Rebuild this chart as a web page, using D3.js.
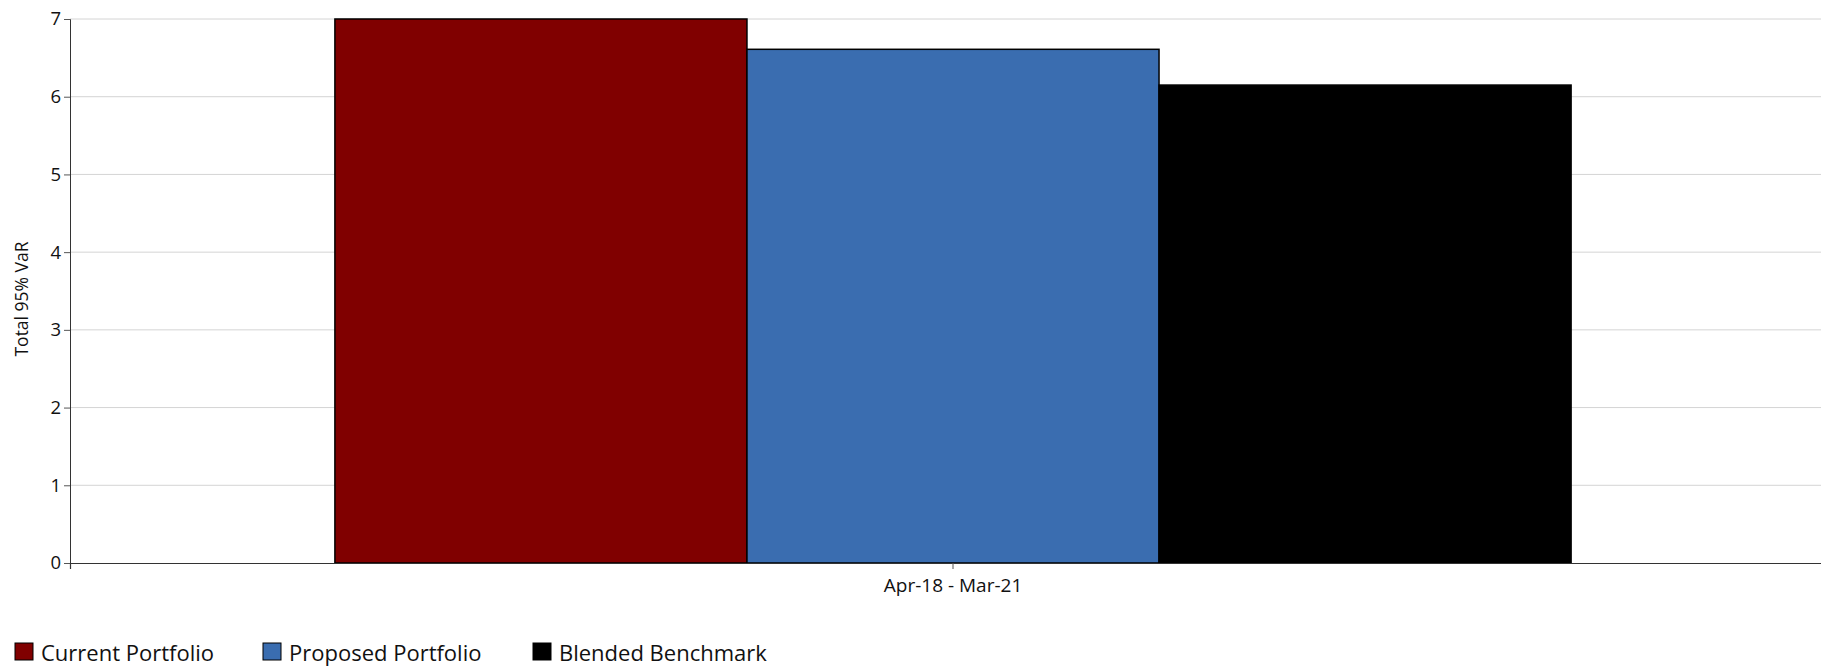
<!DOCTYPE html>
<html>
<head>
<meta charset="utf-8">
<script src="https://cdn.jsdelivr.net/npm/d3@7"></script>
<style>
  html, body { margin: 0; padding: 0; background: #fff; }
  svg { display: block; font-family: "Open Sans", "Noto Sans", sans-serif; }
</style>
</head>
<body>
<svg id="chart" width="1821" height="669"></svg>
<script>
// Period shown on the category axis
const categories = ["Apr-18 - Mar-21"];
// Portfolio series and their Total 95% VaR values
const seriesNames = ["Current Portfolio", "Proposed Portfolio", "Blended Benchmark"];
const seriesColors = ["#800000", "#3a6db0", "#000000"];
const currentValues = [7.0];
const proposedValues = [6.61];
const benchmarkValues = [6.15];
const yTicks = [0, 1, 2, 3, 4, 5, 6, 7];
const yTitle = "Total 95% VaR";

const seriesValues = [currentValues, proposedValues, benchmarkValues];

const svg = d3.select("#chart");
const margin = { top: 19, left: 70, bottom: 106, right: -15 };
const W = 1821, H = 669;
const plotW = W - margin.left - margin.right;
const plotH = H - margin.top - margin.bottom;

const g = svg.append("g").attr("transform", `translate(${margin.left},${margin.top})`);

const y = d3.scaleLinear().domain([0, 7]).range([plotH, 0]);
// one band per period; the series share the middle 70% of it
const x0 = d3.scaleBand().domain(categories).range([0, plotW]);
const x1 = d3.scaleBand().domain(seriesNames).range([x0.bandwidth() * 0.15, x0.bandwidth() * 0.85]);

// gridlines
g.append("g")
  .selectAll("line")
  .data(yTicks.filter(t => t > 0))
  .join("line")
  .attr("x1", 0).attr("x2", plotW)
  .attr("y1", d => y(d)).attr("y2", d => y(d))
  .attr("stroke", "#d4d4d4").attr("stroke-width", 1);

// bars
categories.forEach((c, ci) => {
  const cg = g.append("g").attr("transform", `translate(${x0(c)},0)`);
  cg.selectAll("rect")
    .data(seriesNames.map((s, si) => ({ s, v: seriesValues[si][ci], color: seriesColors[si] })))
    .join("rect")
    .attr("x", d => x1(d.s))
    .attr("width", x1.bandwidth())
    .attr("y", d => y(d.v))
    .attr("height", d => y(0) - y(d.v))
    .attr("fill", d => d.color)
    .attr("stroke", "#000")
    .attr("stroke-width", 1.5);
});

// y axis
const yAxis = g.append("g")
  .call(d3.axisLeft(y).tickValues(yTicks).tickFormat(d3.format("d")).tickSizeOuter(0).tickSize(6).tickPadding(3));
yAxis.select(".domain").attr("stroke", "#333");
yAxis.selectAll(".tick line").attr("stroke", "#555");
yAxis.selectAll(".tick text").attr("font-size", 18.5).attr("fill", "#111").attr("font-family", "Open Sans, sans-serif");

// x axis
const xAxis = g.append("g")
  .attr("transform", `translate(0,${plotH})`)
  .call(d3.axisBottom(x0).tickSizeOuter(0).tickSize(6));
xAxis.select(".domain").attr("stroke", "#333").attr("stroke-width", 1.2);
xAxis.selectAll(".tick line").attr("stroke", "#555");
xAxis.selectAll(".tick text")
  .attr("y", 29).attr("dy", null)
  .attr("font-size", 19).attr("fill", "#111").attr("font-family", "Open Sans, sans-serif");

// y axis title
svg.append("text")
  .attr("transform", "translate(28,299) rotate(-90)")
  .attr("text-anchor", "middle")
  .attr("font-size", 17.5)
  .attr("fill", "#111")
  .text(yTitle);

// legend
const legendX = [15, 263, 533];
const legend = svg.append("g").attr("transform", "translate(0,643)");
seriesNames.forEach((s, i) => {
  const lg = legend.append("g").attr("transform", `translate(${legendX[i]},0)`);
  lg.append("rect").attr("width", 18).attr("height", 17)
    .attr("fill", seriesColors[i]).attr("stroke", "#000").attr("stroke-width", 1);
  lg.append("text").attr("x", 26).attr("y", 18)
    .attr("font-size", 22).attr("fill", "#111").text(s);
});
</script>
</body>
</html>
